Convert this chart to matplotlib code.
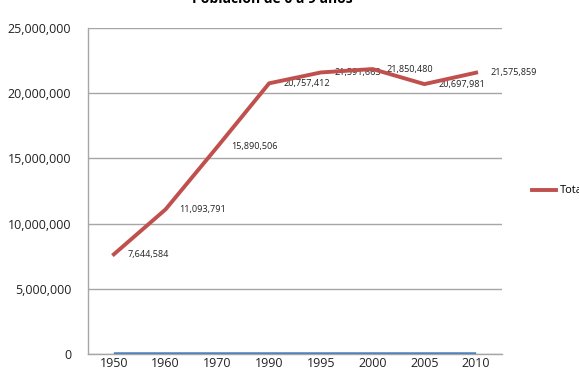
import matplotlib.pyplot as plt
from matplotlib.ticker import FuncFormatter

years = ["1950", "1960", "1970", "1990", "1995", "2000", "2005", "2010"]
total = [7644584, 11093791, 15890506, 20757412, 21591663, 21850480, 20697981, 21575859]
anio = [1950, 1960, 1970, 1990, 1995, 2000, 2005, 2010]

plt.rcParams['font.family'] = ['Open Sans', 'DejaVu Sans']

fig = plt.figure(figsize=(5.79, 3.84), dpi=100)
ax = fig.add_axes([88 / 579, 1 - 354 / 384, (502 - 88) / 579, (354 - 28) / 384])

x = list(range(len(years)))
ax.plot(x, anio, color="#4F81BD", lw=2.5, solid_capstyle="butt", zorder=3)
ax.plot(x, total, color="#C0504D", lw=2.8, solid_joinstyle="miter", zorder=4, label="Total")

for xi, v in zip(x, total):
    ax.annotate(f"{v:,}", (xi, v), xytext=(10, 0), textcoords="offset points",
                ha="left", va="center", fontsize=6.6, color="#222222")

ax.set_xlim(-0.5, len(years) - 0.5)
ax.set_ylim(0, 25000000)
ax.set_yticks(range(0, 25000001, 5000000))
ax.yaxis.set_major_formatter(FuncFormatter(lambda v, p: f"{int(v):,}"))
ax.set_xticks(x)
ax.set_xticklabels(years)
ax.tick_params(length=0, labelsize=9, colors="#222222")
ax.tick_params(axis="y", pad=12)
ax.tick_params(axis="x", pad=2)
ax.grid(axis="y", color="#A6A6A6", lw=1)
ax.set_axisbelow(True)
for s in ["top", "right"]:
    ax.spines[s].set_visible(False)
for s in ["left", "bottom"]:
    ax.spines[s].set_color("#A6A6A6")
    ax.spines[s].set_linewidth(1)

fig.text(272 / 579, 1 - 3 / 384, "Población de 0 a 9 años", fontsize=10, fontweight="bold",
         ha="center", va="baseline")

handles, labels = ax.get_legend_handles_labels()
fig.legend(handles, labels, loc="center left", bbox_to_anchor=(522 / 579, 1 - 191 / 384),
           frameon=False, fontsize=8, handlelength=2.2, handletextpad=0.3)

fig.savefig("out.png", dpi=100)
